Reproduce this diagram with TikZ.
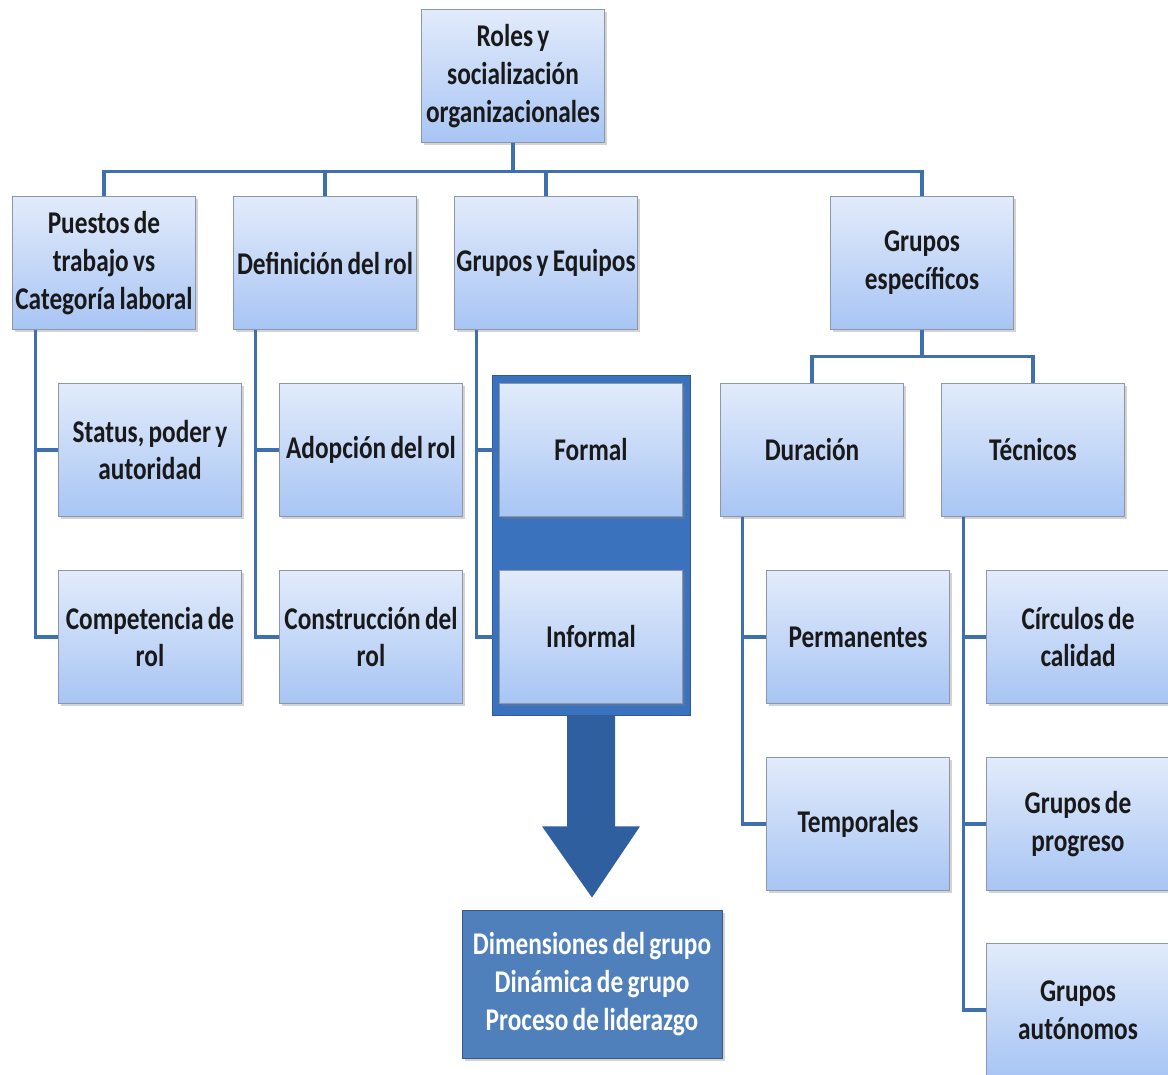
\documentclass[tikz,border=0pt]{standalone}
\usepackage{fontspec}
\setmainfont[FakeStretch=0.8,WordSpace={0.75,0.3,0.3}]{Carlito}
\usepackage{tikz}
\usetikzlibrary{calc,shadows}

\definecolor{linkblue}{HTML}{3E6FAE}
\definecolor{boxtop}{HTML}{E2EBFB}
\definecolor{boxbot}{HTML}{A8C5F4}
\definecolor{boxline}{HTML}{8C98AA}
\definecolor{darkbox}{HTML}{3A72BE}
\definecolor{arrowblue}{HTML}{305F9F}
\definecolor{resbox}{HTML}{4F80BC}

\tikzset{
    item/.style={draw=boxline, line width=0.4pt, top color=boxtop, bottom color=boxbot,
        minimum width=4.575cm, minimum height=3.325cm, inner sep=0pt,
        align=center, text=black!90,
        font=\fontsize{22.5}{27}\selectfont\bfseries,
        drop shadow={shadow xshift=2pt, shadow yshift=-2pt, opacity=0.35}},
    link/.style={draw=linkblue, line width=2.2pt},
    container/.style={fill=darkbox, draw=darkbox!80!black, line width=0.4pt,
        minimum width=4.95cm, minimum height=8.5cm, inner sep=0pt},
    result/.style={fill=resbox, draw=resbox!70!black, line width=0.6pt,
        minimum width=6.5cm, minimum height=3.7cm, inner sep=0pt,
        align=center, text=white,
        font=\fontsize{22.5}{27}\selectfont\bfseries,
        drop shadow={shadow xshift=2pt, shadow yshift=-2pt, opacity=0.35}},
    bigarrow/.style={fill=arrowblue}
}

\begin{document}
\begin{tikzpicture}[x=0.025cm,y=-0.025cm]
    \useasboundingbox (0,0) rectangle (1168,1074);

    %Root
    \node[item] (roles) at (513,76) {Roles y\\socialización\\organizacionales};

    %First level
    \node[item] (pue) at (104,263) {Puestos de\\trabajo vs\\Categoría laboral};
    \node[item] (def) at (325,263) {Definición del rol};
    \node[item] (geq) at (546,263) {Grupos y Equipos};
    \node[item] (ges) at (922,263) {Grupos\\específicos};

    %Bus under the root
    \draw[link] (roles.south) -- ++(0,29) coordinate (bus);
    \foreach \n in {pue,def,geq,ges}
        \draw[link] (\n.north) |- (bus);

    %Puestos de trabajo
    \node[item] (sta) at (150,450) {Status, poder y\\autoridad};
    \node[item] (com) at (150,637) {Competencia de\\rol};
    \draw[link] ([xshift=0.575cm]pue.south west) |- (sta.west);
    \draw[link] ([xshift=0.575cm]pue.south west) |- (com.west);

    %Definicion del rol
    \node[item] (ado) at (371,450) {Adopción del rol};
    \node[item] (con) at (371,637) {Construcción del\\rol};
    \draw[link] ([xshift=0.55cm]def.south west) |- (ado.west);
    \draw[link] ([xshift=0.55cm]def.south west) |- (con.west);

    %Grupos y Equipos
    \node[container] (cont) at (591,545) {};
    \node[item] (for) at (591,450) {Formal};
    \node[item] (inf) at (591,637) {Informal};
    \draw[link] ([xshift=0.55cm]geq.south west) |- (for.west);
    \draw[link] ([xshift=0.55cm]geq.south west) |- (inf.west);

    %Result
    \node[result] (dim) at (592,984) {Dimensiones del grupo\\Dinámica de grupo\\Proceso de liderazgo};
    \fill[bigarrow] ($(cont.south)+(-24,0)$) -- ++(0,111) -- ++(-25,0)
        -- ($(dim.north)+(0,-12)$) -- ($(cont.south)+(49,111)$) -- ++(-25,0) -- ++(0,-111) -- cycle;

    %Grupos especificos
    \node[item] (dur) at (812,450) {Duración};
    \node[item] (tec) at (1033,450) {Técnicos};
    \draw[link] (ges.south) -- ++(0,27) coordinate (bus2);
    \draw[link] (dur.north) |- (bus2);
    \draw[link] (tec.north) |- (bus2);

    %Duracion
    \node[item] (per) at (858,637) {Permanentes};
    \node[item] (tem) at (858,824) {Temporales};
    \draw[link] ([xshift=0.55cm]dur.south west) |- (per.west);
    \draw[link] ([xshift=0.55cm]dur.south west) |- (tem.west);

    %Tecnicos
    \node[item] (cir) at (1078,637) {Círculos de\\calidad};
    \node[item] (pro) at (1078,824) {Grupos de\\progreso};
    \node[item] (aut) at (1078,1010) {Grupos\\autónomos};
    \draw[link] ([xshift=0.55cm]tec.south west) |- (cir.west);
    \draw[link] ([xshift=0.55cm]tec.south west) |- (pro.west);
    \draw[link] ([xshift=0.55cm]tec.south west) |- (aut.west);

\end{tikzpicture}
\end{document}
